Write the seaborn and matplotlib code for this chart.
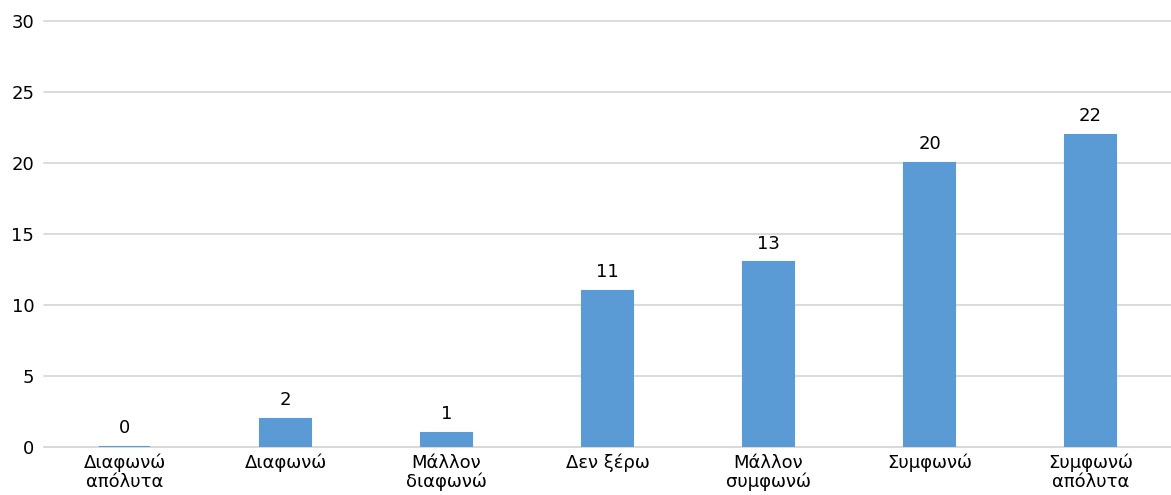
import matplotlib
matplotlib.use("Agg")
import matplotlib.pyplot as plt
import seaborn as sns
import pandas as pd

categories = ["Διαφωνώ\nαπόλυτα", "Διαφωνώ", "Μάλλον\nδιαφωνώ", "Δεν ξέρω",
              "Μάλλον\nσυμφωνώ", "Συμφωνώ", "Συμφωνώ\nαπόλυτα"]
values = [0, 2, 1, 11, 13, 20, 22]
yticks = [0, 5, 10, 15, 20, 25, 30]

sns.set_theme(style="white")
plt.rcParams['font.family'] = ['DejaVu Sans']

df = pd.DataFrame({"cat": categories, "val": values})

fig = plt.figure(figsize=(11.71, 4.95), dpi=100)
ax = fig.add_axes([0.0376, 0.097, 0.9624, 0.8606])
color = "#5B9BD5"
sns.barplot(data=df, x="cat", y="val", color=color, saturation=1, width=0.32,
            edgecolor=color, linewidth=1.5, ax=ax, zorder=3)

ax.set_ylim(0, 30)
ax.set_xlim(-0.5, 6.5)
ax.set_yticks(yticks)
ax.yaxis.grid(True, color="#D9D9D9", linewidth=1.3, zorder=0)
for gl in ax.get_ygridlines():
    gl.set_clip_on(False)
ax.set_axisbelow(True)
for s in ["top", "right", "left"]:
    ax.spines[s].set_visible(False)
ax.spines["bottom"].set_color("#D9D9D9")
ax.spines["bottom"].set_linewidth(1.3)
ax.spines["bottom"].set_zorder(1)
ax.set_xlabel("")
ax.set_ylabel("")
fs = 13
ax.tick_params(axis="both", length=0, labelsize=fs, colors="#000000")
ax.tick_params(axis="x", pad=5)
ax.tick_params(axis="y", pad=7)
for lbl in ax.get_xticklabels():
    lbl.set_linespacing(1.05)

for i, v in enumerate(values):
    ax.annotate(str(v), (i, v), xytext=(0, 7), textcoords="offset points",
                ha="center", va="bottom", fontsize=fs, color="#000000")

fig.savefig("out.png", dpi=100)
